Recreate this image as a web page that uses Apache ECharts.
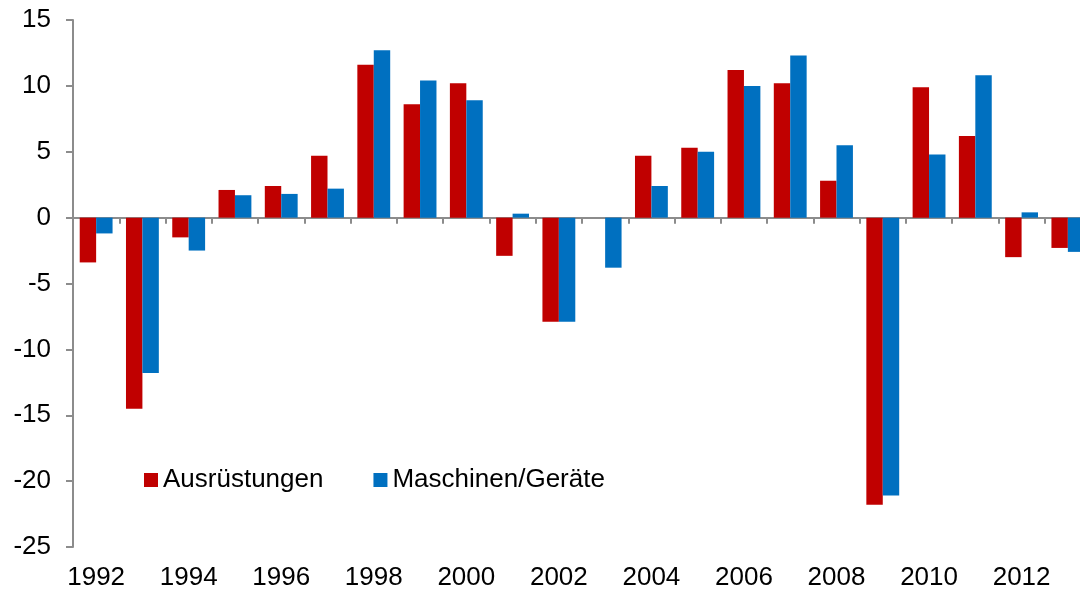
<!DOCTYPE html>
<html>
<head>
<meta charset="utf-8">
<script src="https://cdn.jsdelivr.net/npm/echarts@6/dist/echarts.min.js"></script>
<style>
  html, body { margin: 0; padding: 0; background: #fff; }
  #chart { width: 1080px; height: 591px; }
</style>
</head>
<body>
<div id="chart"></div>
<script>
// Jahre und Veränderungsraten in %
const years = ['1992', '1993', '1994', '1995', '1996', '1997', '1998', '1999', '2000', '2001', '2002',
  '2003', '2004', '2005', '2006', '2007', '2008', '2009', '2010', '2011', '2012', '2013']
const ausruestungen = [-3.4, -14.5, -1.5, 2.1, 2.4, 4.7, 11.6, 8.6, 10.2, -2.9, -7.9,
  0, 4.7, 5.3, 11.2, 10.2, 2.8, -21.8, 9.9, 6.2, -3.0, -2.3]
const maschinen = [-1.2, -11.8, -2.5, 1.7, 1.8, 2.2, 12.7, 10.4, 8.9, 0.3, -7.9,
  -3.8, 2.4, 5.0, 10.0, 12.3, 5.5, -21.1, 4.8, 10.8, 0.4, -2.6]
const yTicks = { min: -25, max: 15, step: 5 }

const chart = echarts.init(document.getElementById('chart'))
const font = 'Liberation Sans, Arial, sans-serif'

const option = {
  animation: false,
  grid: {
    left: 73,
    top: 20,
    width: 1018,
    bottom: 44,
    containLabel: false,
    outerBoundsMode: 'none' // Diagramm ist rechts abgeschnitten
  },
  legend: {
    left: 139,
    top: 462,
    itemWidth: 14,
    itemHeight: 14,
    itemGap: 50,
    icon: 'rect',
    textStyle: {
      fontFamily: font,
      fontSize: 26,
      color: '#000'
    },
    data: ['Ausrüstungen', 'Maschinen/Geräte']
  },
  xAxis: [
    {
      // nur Beschriftung unten
      type: 'category',
      data: years,
      position: 'bottom',
      axisLine: { show: false, onZero: false },
      axisTick: { show: false },
      axisLabel: {
        interval: 1,
        fontFamily: font,
        fontSize: 26,
        color: '#000',
        margin: 18
      }
    },
    {
      // Nulllinie mit Ticks
      type: 'category',
      data: years,
      position: 'bottom',
      axisLine: {
        show: true,
        onZero: true,
        onZeroAxisIndex: 0,
        lineStyle: { color: '#8c8c8c', width: 2 }
      },
      axisTick: {
        show: true,
        length: 6,
        lineStyle: { color: '#8c8c8c', width: 2 }
      },
      axisLabel: { show: false }
    }
  ],
  yAxis: {
    type: 'value',
    min: yTicks.min,
    max: yTicks.max,
    interval: yTicks.step,
    axisLine: {
      show: true,
      onZero: false,
      lineStyle: { color: '#8c8c8c', width: 2 }
    },
    axisTick: {
      show: true,
      length: 7,
      lineStyle: { color: '#8c8c8c', width: 2 }
    },
    splitLine: { show: false },
    axisLabel: {
      fontFamily: font,
      fontSize: 26,
      color: '#000',
      margin: 22
    }
  },
  series: [
    {
      name: 'Ausrüstungen',
      type: 'bar',
      xAxisIndex: 0,
      data: ausruestungen,
      barGap: '0%',
      barCategoryGap: '29%',
      itemStyle: { color: '#C00000' }
    },
    {
      name: 'Maschinen/Geräte',
      type: 'bar',
      xAxisIndex: 0,
      data: maschinen,
      barGap: '0%',
      barCategoryGap: '29%',
      itemStyle: { color: '#0070C0' }
    }
  ]
}

chart.setOption(option)
</script>
</body>
</html>
